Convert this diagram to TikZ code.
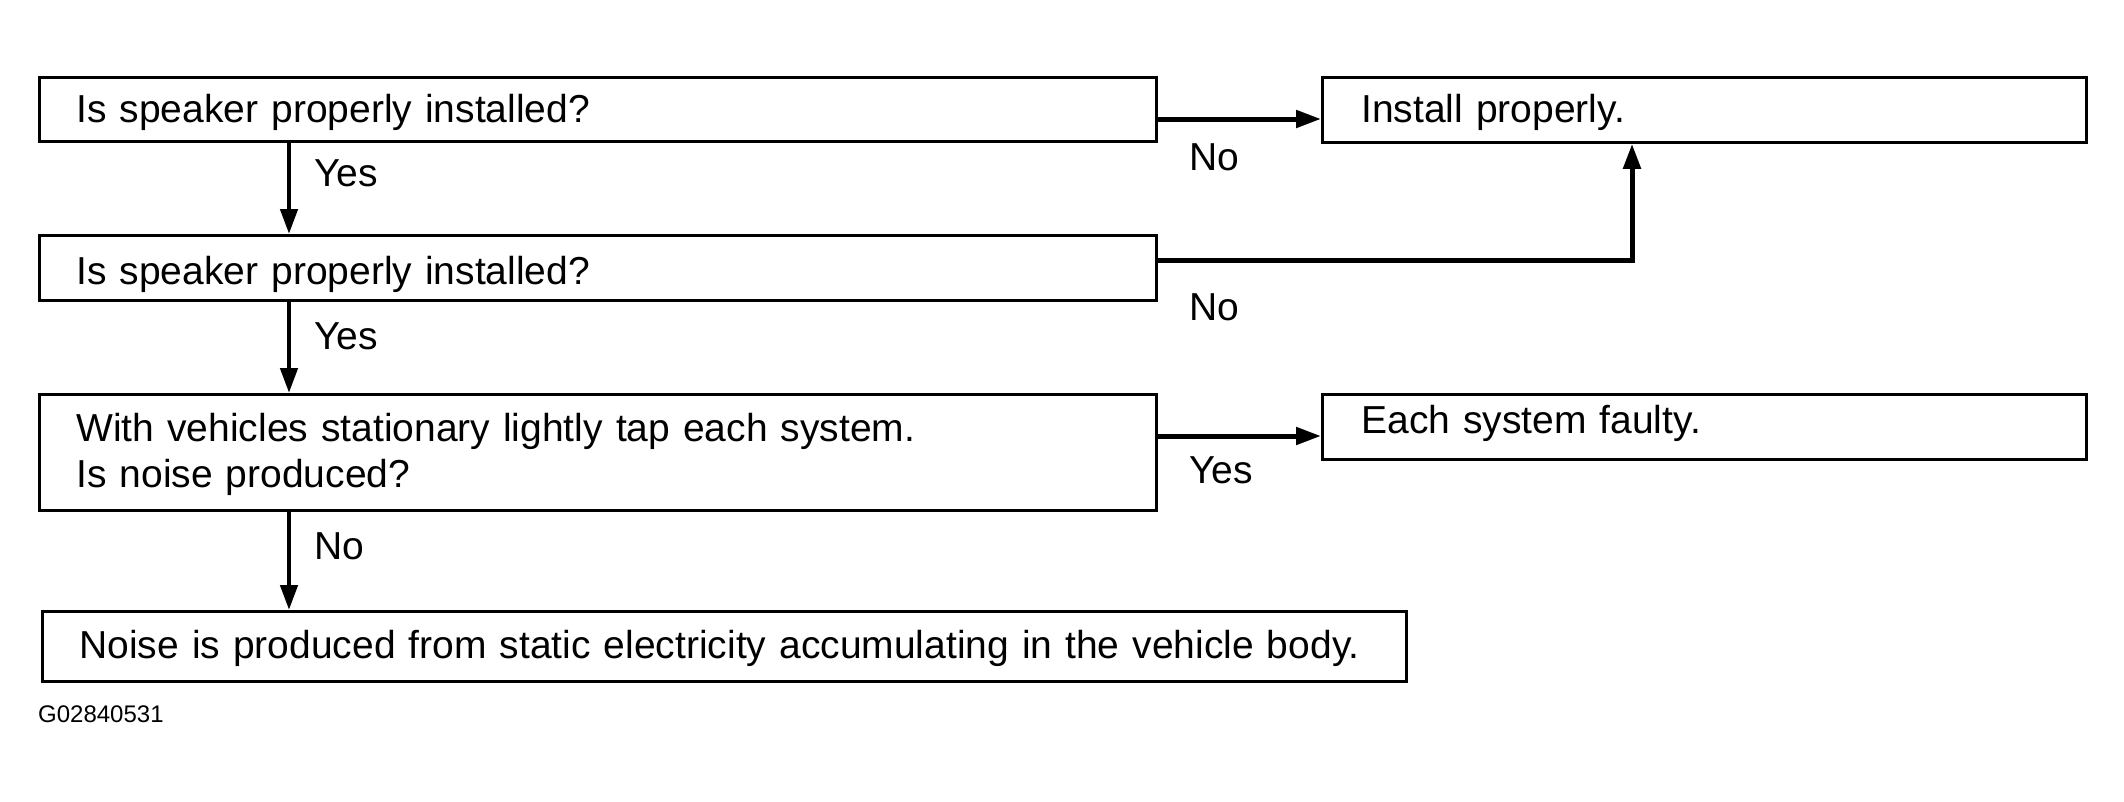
\documentclass[tikz,border=0pt]{standalone}
\usepackage{fontspec}
\setmainfont{Liberation Sans}
\usetikzlibrary{arrows.meta}
\newcommand{\dropby}[2]{\raisebox{-#1}[\height][\depth]{#2}}
\begin{document}
\begin{tikzpicture}[x=1pt,y=-1pt,
  box/.style={draw, line width=2.8pt, rectangle, anchor=north west, inner xsep=37pt, inner ysep=0pt, align=left, font=\fontsize{39}{46}\selectfont},
  conn/.style={line width=5pt, -{Triangle[length=25pt,width=17pt]}},
  vconn/.style={conn, line width=4.5pt},
  lab/.style={anchor=west, font=\fontsize{39}{46}\selectfont, inner sep=0pt}]
\useasboundingbox (0,0) rectangle (2124,801);
\node[box, text width=1043pt, minimum height=64pt] (b1) at (38,76) {\dropby{3pt}{Is speaker properly installed?}};
\node[box, text width=1043pt, minimum height=65pt] (b2) at (38,234) {\dropby{7pt}{Is speaker properly installed?}};
\node[box, text width=1043pt, minimum height=116pt] (b3) at (38,393) {\dropby{2pt}{With vehicles stationary lightly tap each system.}\\\dropby{2pt}{Is noise produced?}};
\node[box, text width=1290pt, minimum height=70pt] (b4) at (41,610) {\dropby{2pt}{Noise is produced from static electricity accumulating in the vehicle body.}};
\node[box, text width=686pt, minimum height=65pt, inner xsep=39pt] (ip) at (1321,76) {\dropby{3pt}{Install properly.}};
\node[box, text width=686pt, minimum height=65pt, inner xsep=39pt] (esf) at (1321,393) {\dropby{-3pt}{Each system faulty.}};
\coordinate (bend) at (1632,260);
\draw[conn] (b1.east |- 0,119) -- (ip.west |- 0,119);
\draw[conn] (b2.east |- bend) -- (bend) -- (ip.south -| bend);
\draw[conn] (b3.east |- 0,436) -- (esf.west |- 0,436);
\draw[vconn] (b1.south -| 289,0) -- (b2.north -| 289,0);
\draw[vconn] (b2.south -| 289,0) -- (b3.north -| 289,0);
\draw[vconn] (b3.south -| 289,0) -- (b4.north -| 289,0);
\node[lab] (y1) at (314,173) {Yes};
\node[lab] (y2) at (314,336) {Yes};
\node[lab] (n3) at (314,546) {No};
\node[lab] (n1) at (1189,157) {No};
\node[lab] (n2) at (1189,307) {No};
\node[lab] (y3) at (1189,470) {Yes};
\node[anchor=west, inner sep=0pt, font=\fontsize{24}{28}\selectfont] (code) at (38,714) {G02840531};
\end{tikzpicture}
\end{document}
